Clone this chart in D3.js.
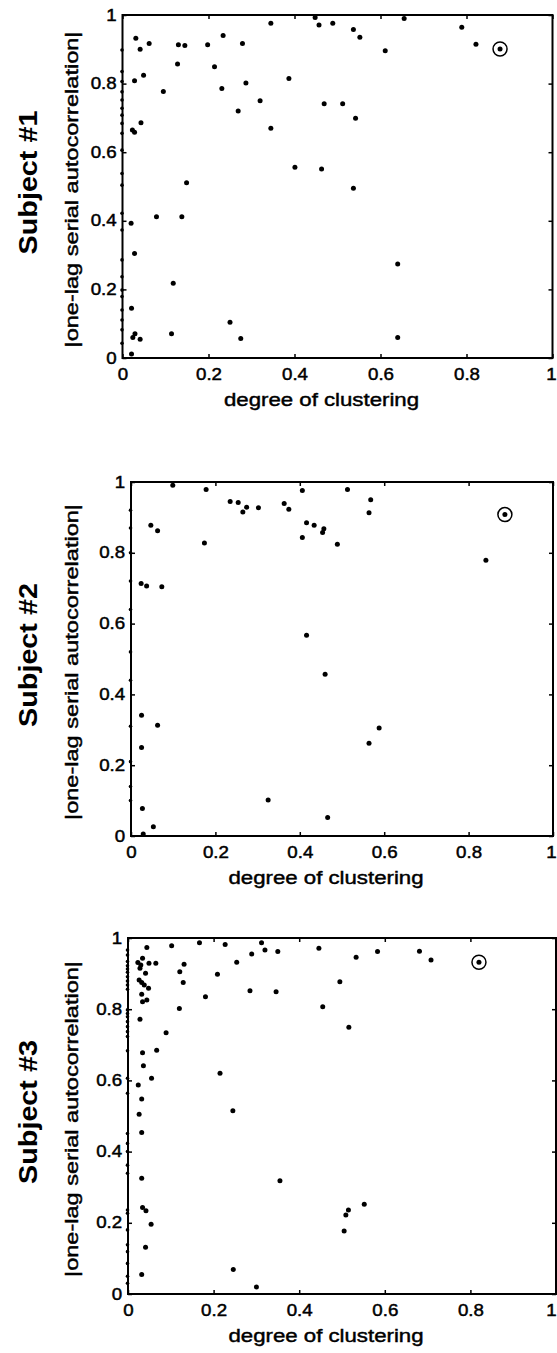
<!DOCTYPE html>
<html>
<head>
  <meta charset="UTF-8">
  <script src="https://d3js.org/d3.v7.min.js"></script>
  <style>
    body { margin: 0; background: #fff; }
    svg { display: block; }
    text { font-family: "Liberation Sans", Arial, sans-serif; fill: #000; }
    .heavy { stroke: #000; stroke-width: 0.45px; }
  </style>
</head>
<body>
<script>
// ---- data ----
var subjects = ["Subject #1", "Subject #2", "Subject #3"];
var xTitle = "degree of clustering";
var yTitle = "|one-lag serial autocorrelation|";
var tickValues = [0, 0.2, 0.4, 0.6, 0.8, 1];

var subject1 = [[0.345,0.976],[0.448,0.993],[0.457,0.971],[0.031,0.932],[0.041,0.900],[0.062,0.917],[0.130,0.913],[0.145,0.911],[0.198,0.913],[0.234,0.940],[0.279,0.917],[0.128,0.857],[0.214,0.849],[0.028,0.808],[0.049,0.824],[0.095,0.777],[0.231,0.786],[0.287,0.802],[0.387,0.815],[0.320,0.750],[0.269,0.720],[0.345,0.670],[0.023,0.665],[0.028,0.658],[0.043,0.686],[0.401,0.556],[0.463,0.551],[0.149,0.511],[0.079,0.412],[0.138,0.412],
  [0.489,0.976],[0.537,0.958],[0.552,0.935],[0.655,0.990],[0.789,0.964],[0.822,0.915],[0.611,0.896],[0.469,0.741],[0.512,0.741],[0.542,0.699],[0.537,0.495],
  [0.020,0.393],[0.028,0.305],[0.118,0.218],[0.021,0.145],[0.250,0.104],[0.114,0.071],[0.029,0.071],[0.024,0.060],[0.041,0.055],[0.275,0.057],[0.021,0.012],
  [0.640,0.274],[0.640,0.060]];
// points sitting on x = 0
var subject1Zero = [0.898,0.835,0.806,0.776,0.752,0.728,0.708,0.684,0.655,0.606,0.538,0.504,0.422,0.373,0.286,0.237,0.198,0.179,0.140,0.111,0.082,0.043];

var subject2 = [[0.099,0.991],[0.178,0.979],[0.235,0.945],[0.254,0.942],[0.265,0.915],[0.274,0.929],[0.302,0.927],[0.363,0.939],[0.374,0.923],[0.406,0.976],[0.406,0.843],[0.416,0.885],[0.434,0.878],[0.454,0.857],[0.457,0.868],[0.047,0.878],[0.063,0.862],[0.174,0.828],[0.024,0.713],[0.037,0.706],[0.073,0.704],[0.416,0.567],
  [0.513,0.979],[0.568,0.950],[0.564,0.913],[0.489,0.824],[0.841,0.779],
  [0.460,0.457],[0.025,0.341],[0.063,0.313],[0.025,0.250],[0.325,0.102],[0.027,0.078],[0.466,0.052],[0.053,0.026],[0.029,0.006],
  [0.588,0.305],[0.564,0.262]];
var subject2Zero = [0.92,0.87,0.80,0.72,0.64,0.52,0.44,0.31,0.21,0.14,0.10];

var subject3 = [[0.044,0.973],[0.102,0.978],[0.167,0.987],[0.227,0.982],[0.312,0.987],[0.320,0.966],[0.350,0.962],[0.289,0.955],[0.254,0.932],[0.446,0.971],[0.034,0.943],[0.023,0.931],[0.030,0.924],[0.049,0.929],[0.065,0.929],[0.028,0.915],[0.041,0.901],[0.131,0.926],[0.121,0.905],[0.129,0.875],[0.209,0.898],[0.026,0.882],[0.032,0.875],[0.038,0.868],[0.048,0.859],[0.032,0.842],[0.034,0.821],[0.044,0.826],[0.181,0.835],[0.285,0.852],[0.346,0.849],[0.455,0.807],[0.120,0.802],[0.028,0.772],[0.089,0.734],[0.034,0.678],[0.067,0.685],[0.036,0.641],[0.055,0.606],[0.215,0.620],
  [0.024,0.587],[0.032,0.548],[0.026,0.505],[0.032,0.454],[0.245,0.515],[0.032,0.325],[0.355,0.318],[0.034,0.243],[0.042,0.234],[0.054,0.196],[0.041,0.131],[0.246,0.069],
  [0.533,0.946],[0.583,0.962],[0.681,0.963],[0.708,0.938],[0.495,0.877],[0.516,0.749],[0.552,0.252],[0.515,0.236],[0.509,0.222],[0.505,0.177],
  [0.300,0.020],[0.032,0.055]];
var subject3Zero = [0.966,0.952,0.934,0.922,0.913,0.904,0.891,0.879,0.868,0.856,0.798,0.788,0.779,0.765,0.751,0.737,0.723,0.683,0.606,0.564,0.451,0.423,0.400,0.362,0.339,0.236,0.227,0.180,0.138,0.119,0.086,0.05,0.03];

// the circled point in each panel
var highlighted = [[0.878,0.901],[0.886,0.908],[0.820,0.932]];

var allPoints = [subject1, subject2, subject3];
var zeroPoints = [subject1Zero, subject2Zero, subject3Zero];

// ---- layout ----
var width = 557, height = 1353;
var boxes = [
  {left: 122.5, right: 552.5, top: 15, bottom: 358},
  {left: 131, right: 553, top: 482, bottom: 836},
  {left: 128, right: 556, top: 938, bottom: 1294}
];

var svg = d3.select('body').append('svg').attr('width', width).attr('height', height);

boxes.forEach(function(b, i) {
  var x = d3.scaleLinear().domain([0, 1]).range([b.left, b.right]);
  var y = d3.scaleLinear().domain([0, 1]).range([b.bottom, b.top]);
  var fmt = function(d) { return d === 0 || d === 1 ? d3.format('d')(d) : d3.format('.1f')(d); };
  var g = svg.append('g');

  // box ticks on top and right (inward, no labels)
  g.append('g').attr('transform', 'translate(0,' + b.top + ')')
    .call(d3.axisTop(x).tickValues(tickValues).tickSize(-4).tickFormat(''))
    .call(function(a) { a.select('.domain').remove(); });
  g.append('g').attr('transform', 'translate(' + b.right + ',0)')
    .call(d3.axisRight(y).tickValues(tickValues).tickSize(-4).tickFormat(''))
    .call(function(a) { a.select('.domain').remove(); });

  // labelled axes
  var ax = g.append('g').attr('transform', 'translate(0,' + b.bottom + ')')
    .call(d3.axisBottom(x).tickValues(tickValues).tickSize(-4).tickPadding(8).tickFormat(fmt));
  ax.select('.domain').remove();
  ax.selectAll('text').attr('font-size', 16).attr('dy', '0.9em').attr('class', 'heavy')
    .attr('transform', 'scale(1.17,1)')
    // keep the last "1" inside the page
    .attr('x', function(d) { return d === 1 ? Math.min(0, (width - 6 - x(1)) / 1.17) : 0; });

  var ay = g.append('g').attr('transform', 'translate(' + b.left + ',0)')
    .call(d3.axisLeft(y).tickValues(tickValues).tickSize(-4).tickPadding(5).tickFormat(fmt));
  ay.select('.domain').remove();
  ay.selectAll('text').attr('font-size', 16).attr('class', 'heavy').attr('transform', 'scale(1.17,1)');

  g.selectAll('.tick line').attr('stroke', '#000').attr('stroke-width', 1.5);

  // frame
  g.append('rect')
    .attr('x', x(0)).attr('y', y(1))
    .attr('width', x(1) - x(0)).attr('height', y(0) - y(1))
    .attr('fill', 'none').attr('stroke', '#000').attr('stroke-width', 2);

  // points
  g.selectAll('circle.pt').data(allPoints[i]).join('circle').attr('class', 'pt')
    .attr('cx', function(d) { return x(d[0]); })
    .attr('cy', function(d) { return y(d[1]); })
    .attr('r', 2.5).attr('fill', '#000');
  g.selectAll('circle.z').data(zeroPoints[i]).join('circle').attr('class', 'z')
    .attr('cx', x(0) - 0.5)
    .attr('cy', function(d) { return y(d); })
    .attr('r', 1.8).attr('fill', '#000');

  // circled point
  var h = highlighted[i];
  g.append('circle').attr('cx', x(h[0])).attr('cy', y(h[1])).attr('r', 7)
    .attr('fill', 'none').attr('stroke', '#000').attr('stroke-width', 1.5);
  g.append('circle').attr('cx', x(h[0])).attr('cy', y(h[1])).attr('r', 2.5).attr('fill', '#000');

  // axis titles
  g.append('text').attr('class', 'heavy')
    .attr('transform', 'translate(' + ((b.left + b.right) / 2 - 16) + ',' + (b.bottom + 48) + ') scale(1.17,1)')
    .attr('text-anchor', 'middle').attr('font-size', 19)
    .text(xTitle);
  g.append('text').attr('class', 'heavy')
    .attr('transform', 'translate(78,' + ((b.top + b.bottom) / 2 + 3) + ') rotate(-90) scale(1.24,1)')
    .attr('text-anchor', 'middle').attr('font-size', 19)
    .text(yTitle);
  g.append('text')
    .attr('transform', 'translate(37,' + ((b.top + b.bottom) / 2 - 4) + ') rotate(-90) scale(1.15,1)')
    .attr('text-anchor', 'middle').attr('font-size', 25).attr('font-weight', 'bold')
    .text(subjects[i]);
});
</script>
</body>
</html>
